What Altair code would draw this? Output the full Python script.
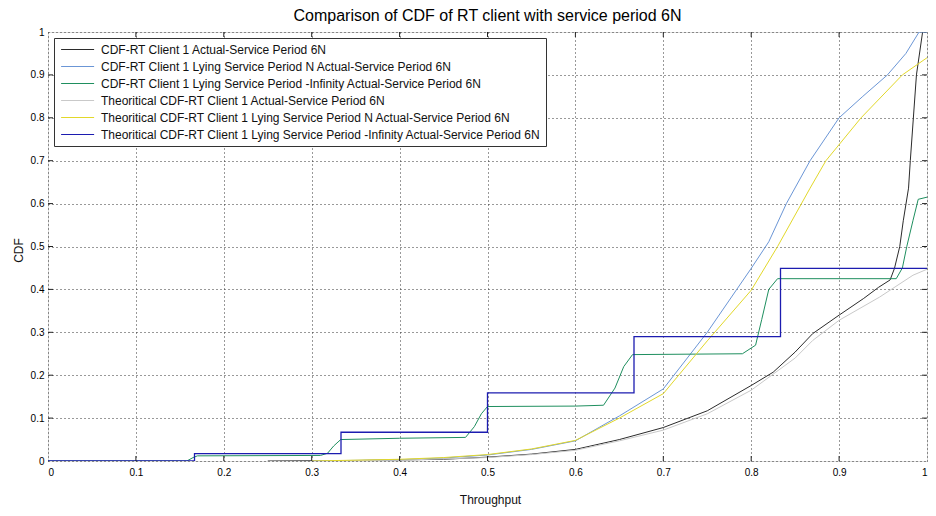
import altair as alt
import pandas as pd

W, H = 879, 429

names = [
    "CDF-RT Client 1 Actual-Service Period 6N",
    "CDF-RT Client 1 Lying Service Period N Actual-Service Period 6N",
    "CDF-RT Client 1 Lying Service Period -Infinity Actual-Service Period 6N",
    "Theoritical CDF-RT Client 1 Actual-Service Period 6N",
    "Theoritical CDF-RT Client 1 Lying Service Period N Actual-Service Period 6N",
    "Theoritical CDF-RT Client 1 Lying Service Period -Infinity Actual-Service Period 6N",
]
colors = ["#2b2b2b", "#6b96d6", "#1f8f5f", "#c9c9c9", "#e2d82a", "#1c1cb0"]

# CDF-RT Client 1 Actual (black)
x_black = [0.25, 0.35, 0.45, 0.5, 0.55, 0.6, 0.65, 0.7, 0.75, 0.8, 0.825, 0.85, 0.87, 0.9,
           0.928, 0.945, 0.958, 0.963, 0.969, 0.973, 0.979, 0.981, 0.988, 0.995, 1.0]
y_black = [0.0, 0.001, 0.004, 0.009, 0.016, 0.027, 0.05, 0.078, 0.117, 0.176, 0.207, 0.254, 0.297, 0.34,
           0.379, 0.405, 0.422, 0.449, 0.5, 0.56, 0.636, 0.7, 0.9, 1.0, 1.0]

# Lying Service Period N (light blue)
x_lblue = [0.3, 0.4, 0.45, 0.5, 0.55, 0.6, 0.65, 0.7, 0.75, 0.8, 0.82, 0.84, 0.867, 0.9,
           0.927, 0.955, 0.976, 0.991, 1.0]
y_lblue = [0.0, 0.003, 0.007, 0.014, 0.027, 0.047, 0.105, 0.168, 0.30, 0.449, 0.511, 0.60, 0.70, 0.80,
           0.85, 0.90, 0.95, 1.0, 1.0]

# Lying Service Period -Infinity (green)
x_green = [0.0, 0.158, 0.165, 0.17, 0.31, 0.318, 0.325, 0.333, 0.40, 0.475, 0.485, 0.493, 0.5,
           0.6, 0.632, 0.645, 0.655, 0.665, 0.79, 0.805, 0.812, 0.82, 0.83, 0.965, 0.972, 0.977,
           0.984, 0.99, 1.0]
y_green = [0.0, 0.0, 0.008, 0.012, 0.013, 0.018, 0.035, 0.05, 0.053, 0.055, 0.08, 0.11, 0.127,
           0.128, 0.13, 0.17, 0.22, 0.248, 0.25, 0.27, 0.33, 0.40, 0.425, 0.425, 0.45, 0.5,
           0.56, 0.61, 0.615]

# Theoretical Actual (light grey)
x_grey = [0.3, 0.4, 0.5, 0.55, 0.6, 0.65, 0.7, 0.75, 0.8, 0.85, 0.87, 0.9, 0.946, 0.984, 1.0]
y_grey = [0.0, 0.002, 0.008, 0.015, 0.025, 0.047, 0.072, 0.11, 0.165, 0.24, 0.281, 0.328, 0.382, 0.433, 0.447]

# Theoretical Lying N (yellow)
x_yellow = [0.3, 0.4, 0.45, 0.5, 0.55, 0.6, 0.65, 0.7, 0.75, 0.8, 0.83, 0.867, 0.885, 0.925, 0.972, 1.0]
y_yellow = [0.0, 0.004, 0.008, 0.015, 0.028, 0.048, 0.1, 0.157, 0.28, 0.398, 0.50, 0.636, 0.70, 0.80, 0.90, 0.94]

# Theoretical Lying -Infinity (dark blue, step)
x_step = [0.0, 1 / 6, 1 / 3, 0.5, 2 / 3, 5 / 6, 1.0]
y_step = [0.0, 0.017, 0.067, 0.159, 0.29, 0.449, 0.449]

ticks = [0, 0.1, 0.2, 0.3, 0.4, 0.5, 0.6, 0.7, 0.8, 0.9, 1]

rows = []
for name, xs, ys in [(names[0], x_black, y_black), (names[1], x_lblue, y_lblue),
                     (names[2], x_green, y_green), (names[3], x_grey, y_grey),
                     (names[4], x_yellow, y_yellow)]:
    for i, (a, b) in enumerate(zip(xs, ys)):
        rows.append({"series": name, "x": a, "y": b, "o": i})
df_lines = pd.DataFrame(rows)
df_step = pd.DataFrame({"series": names[5], "x": x_step, "y": y_step, "o": range(len(x_step))})
df_ticks = pd.DataFrame({"x": ticks[1:-1], "y": ticks[1:-1]})

FONT = "Liberation Sans"
xscale = alt.Scale(domain=[0, 1], nice=False, zero=False)
yscale = alt.Scale(domain=[0, 1], nice=False, zero=False)
cscale = alt.Scale(domain=names, range=colors)

xaxis = alt.Axis(values=ticks, format="~g", grid=True, gridDash=[1, 3], gridColor="#333",
                 ticks=False, domain=False, labelPadding=6, title="Throughput",
                 titleX=442, titleY=38, titleAlign="center", titleBaseline="middle",
                 titleFontWeight="normal", titleFontSize=12, titleFont=FONT, titleColor="#111")
yaxis = alt.Axis(values=ticks, format="~g", grid=True, gridDash=[1, 3], gridColor="#333",
                 ticks=False, domain=False, labelPadding=4, title="CDF",
                 titleX=-30, titleY=218, titleAlign="center", titleBaseline="middle", titleAngle=-90,
                 titleFontWeight="normal", titleFontSize=12, titleFont=FONT, titleColor="#111")

legend = alt.Legend(orient="none", legendX=6, legendY=6, title=None,
                    symbolType="M-0.8,0H5.2", symbolSize=121, symbolStrokeWidth=1.2,
                    labelFontSize=12, labelFont=FONT, labelColor="#111", labelLimit=700,
                    labelOffset=29, strokeColor="#333", fillColor="white", padding=5,
                    rowPadding=4, cornerRadius=0)

lines = alt.Chart(df_lines).mark_line(strokeWidth=1, clip=True).encode(
    x=alt.X("x:Q", scale=xscale, axis=xaxis),
    y=alt.Y("y:Q", scale=yscale, axis=yaxis),
    color=alt.Color("series:N", scale=cscale, legend=legend),
    order="o:Q",
)
step = alt.Chart(df_step).mark_line(strokeWidth=1.3, interpolate="step-after", clip=True).encode(
    x=alt.X("x:Q", scale=xscale),
    y=alt.Y("y:Q", scale=yscale),
    color=alt.Color("series:N", scale=cscale, legend=legend),
    order="o:Q",
)
tick_b = alt.Chart(df_ticks).mark_rule(color="#222").encode(
    x=alt.X("x:Q", scale=xscale), y=alt.value(H), y2=alt.value(H - 5))
tick_t = alt.Chart(df_ticks).mark_rule(color="#222").encode(
    x=alt.X("x:Q", scale=xscale), y=alt.value(0), y2=alt.value(5))
tick_l = alt.Chart(df_ticks).mark_rule(color="#222").encode(
    y=alt.Y("y:Q", scale=yscale), x=alt.value(0), x2=alt.value(5))
tick_r = alt.Chart(df_ticks).mark_rule(color="#222").encode(
    y=alt.Y("y:Q", scale=yscale), x=alt.value(W), x2=alt.value(W - 5))

chart = alt.layer(lines, step, tick_b, tick_t, tick_l, tick_r).properties(
    width=W, height=H,
    title=alt.TitleParams("Comparison of CDF of RT client with service period 6N",
                          fontSize=16, font=FONT, fontWeight="normal", color="#000",
                          anchor="middle", offset=3),
    autosize=alt.AutoSizeParams(type="none"),
    padding={"left": 40, "top": 24, "right": 1, "bottom": 47},
).configure_view(stroke="#222", strokeWidth=1).configure_axis(
    labelFont=FONT, labelFontSize=11, labelColor="#222"
).configure(background="white")

chart.save("out.html", embed_options={"renderer": "svg", "actions": False})
